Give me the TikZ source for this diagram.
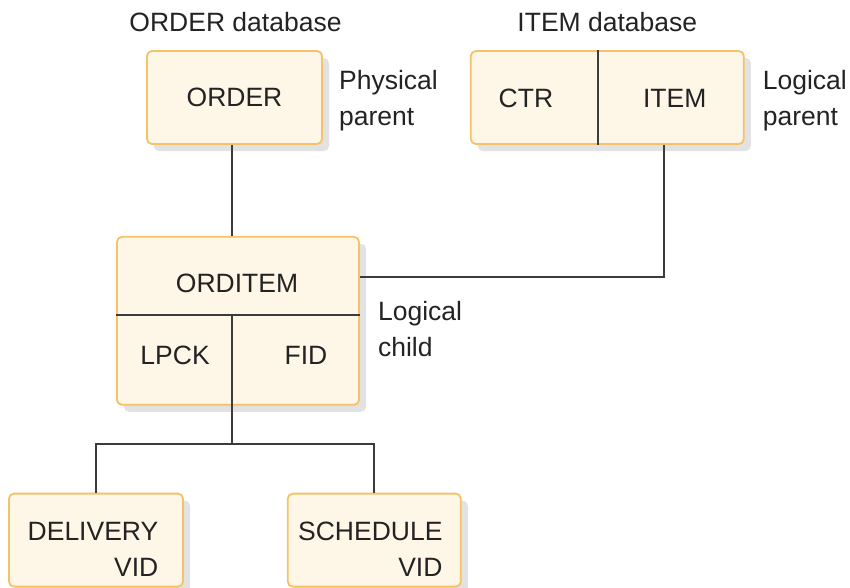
\documentclass[tikz,border=0pt]{standalone}
\usepackage{fontspec}
\setmainfont{Liberation Sans}
\usetikzlibrary{positioning,shadows,calc}
\definecolor{boxfill}{RGB}{254,246,231}
\definecolor{boxline}{RGB}{246,194,104}
\definecolor{shadowgray}{RGB}{226,226,226}
\definecolor{linkgray}{RGB}{60,60,60}
\definecolor{textgray}{RGB}{35,35,35}

\begin{document}
\begin{tikzpicture}[
    x=1pt, y=-1pt,
    font=\fontsize{26.5}{36}\selectfont, text=textgray,
    box/.style={rectangle, draw=boxline, line width=1.8pt, fill=boxfill, rounded corners=5pt,
        drop shadow={shadow xshift=7pt, shadow yshift=-7pt, fill=shadowgray, opacity=1}},
    link/.style={draw=linkgray, line width=1.8pt},
    note/.style={align=left, inner sep=0pt}
]
\useasboundingbox (0,0) rectangle (850,587);

\node[box, minimum width=175pt, minimum height=93pt] (order) at (234.5,97.5) {ORDER};
\node[box, minimum width=273pt, minimum height=93pt, right=147pt of order] (item) {};
\node[box, minimum width=242pt, minimum height=168pt, below=91pt of order, xshift=3.5pt] (orditem) {};
\node[box, minimum width=174pt, minimum height=93pt, below=87pt of orditem, xshift=-142pt] (delivery) {};
\node[box, minimum width=173pt, minimum height=93pt, right=103pt of delivery] (schedule) {};

% titles and notes
\node at ($(order.north)+(1,-28)$) (ordertitle) {ORDER database};
\node at ($(item.north)+(0,-28)$) (itemtitle) {ITEM database};
\node[note, right=16pt of order, yshift=-3pt] (physnote) {Physical\\parent};
\node[note, right=18pt of item, yshift=-3pt] (lognote) {Logical\\parent};
\node[note, right=18pt of orditem, yshift=-8pt] (childnote) {Logical\\child};

% segment fields
\coordinate (ctrsplit) at ($(item.north west)+(128,0)$);
\draw[link] (ctrsplit) -- (ctrsplit |- item.south);
\node at ($(item.west)+(56,1)$) (ctr) {CTR};
\node at ($(item.east)+(-70,1)$) (itemkey) {ITEM};

\coordinate (split) at ($(orditem.north west)+(116,79)$);
\draw[link] (split -| orditem.west) -- (split -| orditem.east);
\node at ($(orditem.north)+(-1,47)$) (orditemkey) {ORDITEM};
\node at ($(orditem.south west)+(59,-50)$) (lpck) {LPCK};
\node at ($(orditem.south east)+(-54,-50)$) (fid) {FID};

\node[align=right] at ($(delivery.center)+(-3,9)$) (deliverykey) {DELIVERY\\VID};
\node[align=right] at ($(schedule.center)+(-4,9)$) (schedulekey) {SCHEDULE\\VID};

% connectors
\draw[link] (split |- order.south) -- (split |- orditem.north);
\coordinate (itemfoot) at ($(item.south west)+(194,0)$);
\coordinate (childtap) at ($(orditem.north east)+(0,41)$);
\draw[link] (itemfoot) |- (childtap);
\draw[link] (split) -- ++(0,129) coordinate (fork);
\draw[link] (fork) -| (delivery.north);
\draw[link] (fork) -| (schedule.north);

\end{tikzpicture}
\end{document}
